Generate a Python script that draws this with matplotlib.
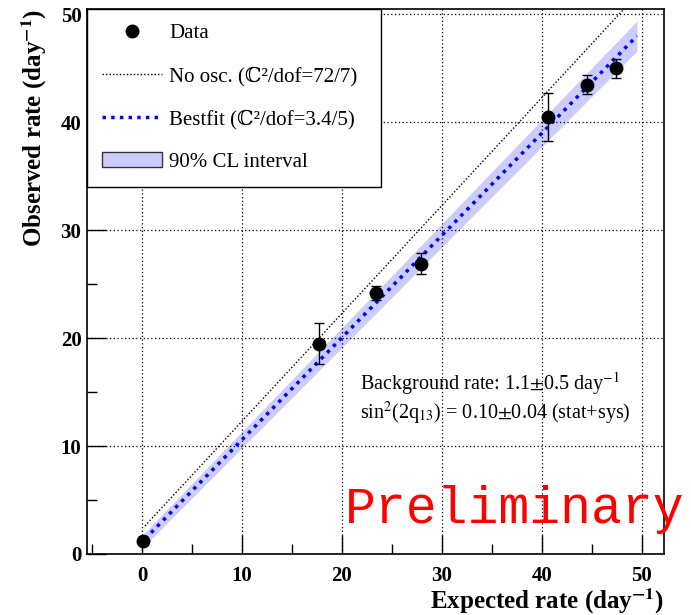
import matplotlib
matplotlib.use("Agg")
import matplotlib.pyplot as plt
from matplotlib.lines import Line2D
from matplotlib.patches import Patch
from matplotlib.ticker import MultipleLocator
import numpy as np

plt.rcParams['mathtext.fontset'] = 'stix'
plt.rcParams['font.family'] = ['Liberation Serif', 'DejaVu Serif']

# measured vs expected rates (day^-1)
exp_rate = np.array([0.1, 17.7, 23.4, 27.9, 40.6, 44.5, 47.4])
obs_rate = np.array([1.2, 19.5, 24.2, 26.9, 40.5, 43.5, 45.0])
obs_err = np.array([0.4, 1.9, 0.65, 0.95, 2.2, 0.9, 0.85])

# no-oscillation expectation
noosc_x = [0.3, 50.0]
noosc_y = [2.6, 52.3]

# best fit and 90% CL band
fit_x = [0.3, 49.5]
fit_y = [1.4, 48.0]
band_lo = [0.8, 46.6]
band_hi = [2.0, 49.4]

fig = plt.figure(figsize=(6.91, 6.15), dpi=100)
ax = fig.add_axes([0.1259, 0.0992, 0.835, 0.8862])

ax.fill_between(fit_x, band_lo, band_hi, color='#ccccff', lw=0, zorder=1)
ax.plot(noosc_x, noosc_y, color='black', ls=(0, (1, 1.5)), lw=1.0, zorder=2)
ax.plot(fit_x, fit_y, color='#0000ff', ls=(0, (1, 1.5)), lw=2.5, zorder=3)
ax.errorbar(exp_rate, obs_rate, yerr=obs_err, fmt='o', color='black',
            ms=9, elinewidth=1.0, capsize=3.5, capthick=1.0, zorder=4)

ax.set_xlim(-5.5, 52.2)
ax.set_ylim(0, 50.5)
ax.xaxis.set_major_locator(MultipleLocator(10))
ax.xaxis.set_minor_locator(MultipleLocator(5))
ax.yaxis.set_major_locator(MultipleLocator(10))
ax.yaxis.set_minor_locator(MultipleLocator(5))
ax.tick_params(which='both', direction='in', top=False, right=False,
               labelsize=15, width=1.0)
ax.tick_params(axis='x', pad=9)
ax.tick_params(axis='y', pad=4)
ax.tick_params(which='major', length=14)
ax.tick_params(which='minor', length=7)
for lbl in ax.get_xticklabels() + ax.get_yticklabels():
    lbl.set_fontweight('bold')
ax.grid(True, which='major', color='black', ls=(0, (1, 2)), lw=0.9)
for sp in ax.spines.values():
    sp.set_linewidth(1.2)

ax.set_xlabel(r'Expected rate (day$^{\mathbf{-1}}$)', fontsize=18,
              fontweight='bold', loc='right', labelpad=0)
ax.set_ylabel(r'Observed rate (day$^{\mathbf{-1}}$)', fontsize=18,
              fontweight='bold', loc='top', labelpad=8)

handles = [
    Line2D([], [], marker='o', color='black', ls='none', ms=9),
    Line2D([], [], color='black', ls=(0, (1, 1.5)), lw=1.0),
    Line2D([], [], color='#0000ff', ls=(0, (1, 1.5)), lw=2.5),
    Patch(facecolor='#ccccff', edgecolor='#333333', lw=1.0),
]
labels = ['Data',
          'No osc. (ℂ²/dof=72/7)',
          'Bestfit (ℂ²/dof=3.4/5)',
          '90% CL interval']
leg = ax.legend(handles, labels, loc='upper left',
                bbox_to_anchor=(0, 0.688, 0.51, 0.312), mode='expand',
                borderaxespad=0, fontsize=15, handlelength=2.9,
                handletextpad=0.35, labelspacing=1.12, borderpad=0.7,
                fancybox=False, framealpha=1, edgecolor='black')
leg.get_frame().set_linewidth(1.0)

ax.text(21.8, 15.8, r'Background rate: 1.1$\pm$0.5 day$^{-1}$', fontsize=14.5,
        ha='left', va='center')
ax.text(21.8, 13.0, r'sin$^2$(2q$_{13}$) = 0.10$\pm$0.04 (stat+sys)',
        fontsize=14.5, ha='left', va='center')

fig.text(0.499, 0.150, 'Preliminary', color='red', fontsize=37,
         family='Liberation Mono', ha='left', va='baseline')

fig.savefig('out.png', dpi=100)
